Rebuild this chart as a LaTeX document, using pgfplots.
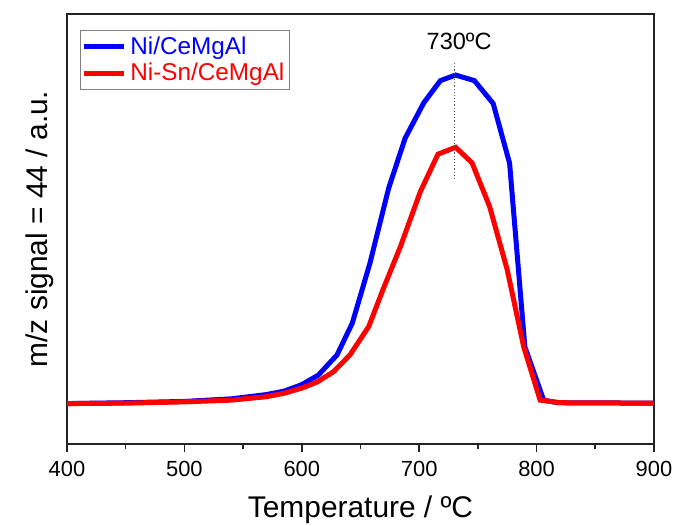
\documentclass[border=0pt]{standalone}
\usepackage{fontspec}
\setmainfont{Liberation Sans}
\usepackage{pgfplots}
\pgfplotsset{compat=1.18}
\usepackage{pgfplotstable}
\pgfplotstableread{
T y
400 9.4
450 9.6
500 9.9
540 10.5
570 11.5
585 12.3
600 13.8
614 16.0
630 20.7
643 28.1
658 42.0
674 59.5
688 71.1
704 79.4
718 84.5
731 85.8
747 84.5
763 79.2
777 65.3
790 22.6
806 10.2
818 9.6
900 9.5
}\blue
\pgfplotstableread{
T y
400 9.4
450 9.5
500 9.8
540 10.2
570 11.0
585 11.8
600 13.0
613 14.4
627 16.8
641 20.7
657 27.3
669 35.8
684 45.9
701 58.7
716 67.4
731 69.0
745 65.4
760 55.2
775 40.5
789 22.6
803 10.2
820 9.6
900 9.5
}\red
\definecolor{axgray}{RGB}{35,35,35}
\begin{document}
\begin{tikzpicture}
\useasboundingbox (-33.5bp,-41bp) rectangle (305.5bp,222bp);
\begin{axis}[
  at={(0,0)}, anchor=south west,
  scale only axis, width=293.5bp, height=215bp,
  xmin=400, xmax=900, ymin=0, ymax=100,
  xtick={400,500,...,900},
  minor xtick={450,550,...,850},
  ytick=\empty,
  xtick pos=bottom, tick align=outside,
  major tick length=4bp, minor tick length=2.5bp,
  every tick/.style={axgray, line width=0.8bp},
  axis line style={axgray, line width=1.1bp},
  tick label style={font=\fontsize{11}{13}\selectfont},
  xticklabel style={yshift=-1bp},
  /pgf/number format/assume math mode=true,
  xlabel={Temperature / ºC},
  ylabel={m/z signal = 44 / a.u.},
  label style={font=\fontsize{15}{18}\selectfont},
  xlabel style={yshift=-3bp},
  ylabel style={yshift=-1bp},
  legend style={at={(0.022,0.963)}, anchor=north west, draw=gray, line width=0.5bp,
    inner xsep=0.5bp, inner ysep=1bp, font=\fontsize{12.2}{14.5}\selectfont,
    row sep=-1bp},
  legend cell align=left,
  legend image code/.code={\draw[#1] (0bp,0bp) -- (20bp,0bp);},
]
\addplot[blue, line width=2.5bp] table[x=T,y=y] {\blue};
\addlegendentry{\textcolor{blue}{Ni/CeMgAl}}
\addplot[red, line width=2.5bp] table[x=T,y=y] {\red};
\addlegendentry{\textcolor{red}{Ni-Sn/CeMgAl}}
\addplot[gray!70!black, densely dotted, line width=0.6bp, forget plot] coordinates {(730,61.6) (730,88.8)};
\node[font=\fontsize{11.8}{14}\selectfont] at (axis cs:734,93.6) {730ºC};
\end{axis}
\end{tikzpicture}
\end{document}
